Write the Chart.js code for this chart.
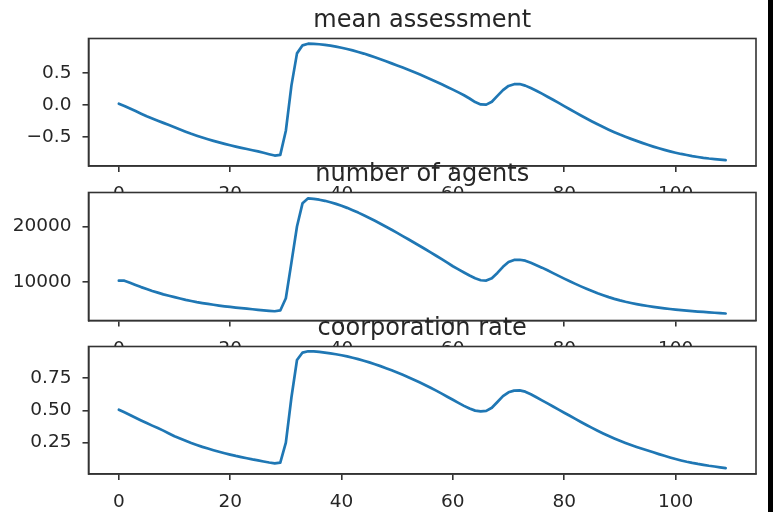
<!DOCTYPE html>
<html><head><meta charset="utf-8">
<script src="https://cdn.jsdelivr.net/npm/chart.js@4/dist/chart.umd.min.js"></script>
<style>
html,body{margin:0;padding:0;background:#fff;}
body{width:773px;height:512px;position:relative;overflow:hidden;}
.panel{position:absolute;left:0;}
#edge{position:absolute;left:768px;top:0;width:5px;height:512px;background:#000;}
</style></head><body>
<div class="panel" id="p1"><canvas id="c1"></canvas></div>
<div class="panel" id="p2"><canvas id="c2"></canvas></div>
<div class="panel" id="p3"><canvas id="c3"></canvas></div>
<div id="edge"></div>
<script>
// ---- data ----
const steps = Array.from({length: 110}, (_, i) => i);
const meanAssessment = [
 0.020,-0.015,-0.055,-0.095,-0.135,-0.175,-0.210,-0.245,-0.278,-0.310,
-0.345,-0.380,-0.415,-0.448,-0.478,-0.506,-0.532,-0.557,-0.581,-0.604,
-0.626,-0.646,-0.665,-0.684,-0.702,-0.720,-0.742,-0.764,-0.785,-0.775,
-0.400, 0.300, 0.800, 0.925, 0.950, 0.948, 0.942, 0.932, 0.920, 0.905,
 0.888, 0.868, 0.846, 0.822, 0.797, 0.769, 0.739, 0.708, 0.677, 0.645,
 0.613, 0.580, 0.546, 0.511, 0.475, 0.438, 0.400, 0.361, 0.321, 0.280,
 0.238, 0.195, 0.150, 0.100, 0.045, 0.008, 0.005, 0.050, 0.140, 0.230,
 0.295, 0.322, 0.325, 0.300, 0.262, 0.220, 0.175, 0.128, 0.080, 0.032,
-0.017,-0.066,-0.115,-0.163,-0.210,-0.256,-0.300,-0.343,-0.384,-0.423,
-0.460,-0.494,-0.526,-0.557,-0.588,-0.618,-0.646,-0.672,-0.697,-0.720,
-0.741,-0.760,-0.777,-0.793,-0.807,-0.820,-0.831,-0.840,-0.849,-0.857];
const numberOfAgents = [
10250,10250, 9900, 9500, 9100, 8750, 8400, 8100, 7800, 7550,
 7300, 7050, 6800, 6600, 6400, 6230, 6070, 5920, 5780, 5650,
 5530, 5420, 5320, 5220, 5120, 5020, 4930, 4840, 4760, 4900,
 7100,13500,20000,24200,25070,24980,24820,24620,24370,24070,
23730,23350,22940,22500,22030,21540,21030,20500,19960,19410,
18850,18280,17700,17120,16540,15950,15350,14740,14120,13490,
12850,12280,11720,11180,10680,10330,10280,10700,11650,12750,
13600,13980,14020,13850,13480,13050,12600,12120,11620,11120,
10630,10150, 9680, 9230, 8800, 8390, 8000, 7640, 7300, 6990,
 6710, 6460, 6240, 6040, 5860, 5700, 5550, 5410, 5280, 5160,
 5050, 4950, 4860, 4780, 4700, 4630, 4560, 4490, 4420, 4350];
const cooperationRate = [
0.505,0.485,0.464,0.443,0.422,0.402,0.382,0.363,0.343,0.321,
0.300,0.282,0.264,0.247,0.232,0.217,0.204,0.191,0.179,0.168,
0.157,0.147,0.138,0.129,0.120,0.112,0.104,0.096,0.089,0.095,
0.250,0.600,0.890,0.948,0.958,0.957,0.953,0.948,0.942,0.935,
0.927,0.918,0.908,0.897,0.885,0.872,0.858,0.843,0.827,0.811,
0.794,0.776,0.757,0.738,0.718,0.697,0.675,0.653,0.630,0.606,
0.582,0.558,0.535,0.514,0.498,0.492,0.496,0.520,0.565,0.610,
0.640,0.653,0.655,0.645,0.625,0.602,0.578,0.554,0.530,0.506,
0.482,0.458,0.434,0.410,0.387,0.364,0.342,0.321,0.301,0.282,
0.264,0.247,0.231,0.216,0.202,0.189,0.175,0.161,0.148,0.135,
0.123,0.112,0.102,0.093,0.085,0.078,0.071,0.065,0.059,0.053];
const xTicks = [0, 20, 40, 60, 80, 100];
const meanTicks = [-0.5, 0.0, 0.5];
const agentTicks = [10000, 20000];
const coopTicks = [0.25, 0.50, 0.75];
const titles = ['mean assessment', 'number of agents', 'coorporation rate'];

// ---- layout constants ----
const X_RANGE = [-5.45, 114.45];
const Y_RANGES = [[-0.947, 1.031], [3094, 26115], [0.007, 0.995]];
const PANEL_TOP = [38.5, 192.5, 346.5];
const PANEL_H = [127.5, 128, 127.5];
const TITLE_BLOCK = 38.5, XAXIS_BLOCK = 45, Y_AXIS_W = 88.5, RIGHT_PAD = 17;
const FONT = 'DejaVu Sans';
const INK = '#262626', SPINE = '#333333', BLUE = '#1f77b4';
const TICK_FONT = 18.5, TITLE_FONT = 24;

const framePlugin = {
  id: 'frame',
  beforeDraw(chart) {
    const a = chart.chartArea, ctx = chart.ctx;
    ctx.save(); ctx.fillStyle = '#ffffff';
    ctx.fillRect(a.left, a.top, a.right - a.left, a.bottom - a.top);
    ctx.restore();
  },
  afterDraw(chart) {
    const a = chart.chartArea, ctx = chart.ctx;
    ctx.save(); ctx.strokeStyle = SPINE; ctx.lineWidth = 1.6;
    ctx.strokeRect(a.left, a.top, a.right - a.left, a.bottom - a.top);
    ctx.restore();
  }
};

function fmt(i, v) {
  let s;
  if (i === 0) s = v.toFixed(1);
  else if (i === 1) s = String(Math.round(v));
  else s = v.toFixed(2);
  return s.replace('-', '\u2212');
}

const series = [meanAssessment, numberOfAgents, cooperationRate];
const yTickSets = [meanTicks, agentTicks, coopTicks];

for (let i = 0; i < 3; i++) {
  const top = PANEL_TOP[i] - TITLE_BLOCK;
  const h = Math.round(TITLE_BLOCK + PANEL_H[i] + XAXIS_BLOCK);
  const div = document.getElementById('p' + (i + 1));
  div.style.top = top + 'px';
  const cv = document.getElementById('c' + (i + 1));
  cv.width = 773; cv.height = h;
  cv.style.width = '773px'; cv.style.height = h + 'px';
  const tPadTop = 6.5;
  const tPadBottom = TITLE_BLOCK - tPadTop - TITLE_FONT * 1.2;
  new Chart(cv, {
    type: 'line',
    data: {
      datasets: [{
        data: steps.map((s, k) => ({x: s, y: series[i][k]})),
        borderColor: BLUE, borderWidth: 2.7, pointRadius: 0, tension: 0,
        fill: false, borderJoinStyle: 'round', borderCapStyle: 'round'
      }]
    },
    options: {
      responsive: false, animation: false, devicePixelRatio: 1,
      layout: {padding: {left: 0, right: RIGHT_PAD, top: 0, bottom: h - (TITLE_BLOCK + PANEL_H[i] + XAXIS_BLOCK)}},
      plugins: {
        legend: {display: false}, tooltip: {enabled: false},
        title: {display: true, fullSize: false, text: titles[i], color: INK,
          font: {family: FONT, size: TITLE_FONT, weight: 'normal', lineHeight: 1.2},
          padding: {top: tPadTop, bottom: tPadBottom}}
      },
      scales: {
        x: {
          type: 'linear', min: X_RANGE[0], max: X_RANGE[1],
          afterBuildTicks: s => { s.ticks = xTicks.map(v => ({value: v})); },
          afterFit: s => { s.height = XAXIS_BLOCK; },
          ticks: {color: INK, font: {family: FONT, size: TICK_FONT}, padding: 11.5, maxRotation: 0, autoSkip: false,
            callback: v => String(v)},
          grid: {display: true, drawOnChartArea: false, drawTicks: true, tickLength: 6, tickWidth: 1.6, tickColor: SPINE, color: SPINE, lineWidth: 1.6},
          border: {display: true, color: SPINE, width: 1.6}
        },
        y: {
          type: 'linear', min: Y_RANGES[i][0], max: Y_RANGES[i][1],
          afterBuildTicks: s => { s.ticks = yTickSets[i].map(v => ({value: v})); },
          afterFit: s => { s.width = Y_AXIS_W; },
          ticks: {color: INK, font: {family: FONT, size: TICK_FONT}, padding: 11, autoSkip: false,
            callback: v => fmt(i, v)},
          grid: {display: true, drawOnChartArea: false, drawTicks: true, tickLength: 6, tickWidth: 1.6, tickColor: SPINE, color: SPINE, lineWidth: 1.6},
          border: {display: true, color: SPINE, width: 1.6}
        }
      }
    },
    plugins: [framePlugin]
  });
}
</script>
</body></html>
